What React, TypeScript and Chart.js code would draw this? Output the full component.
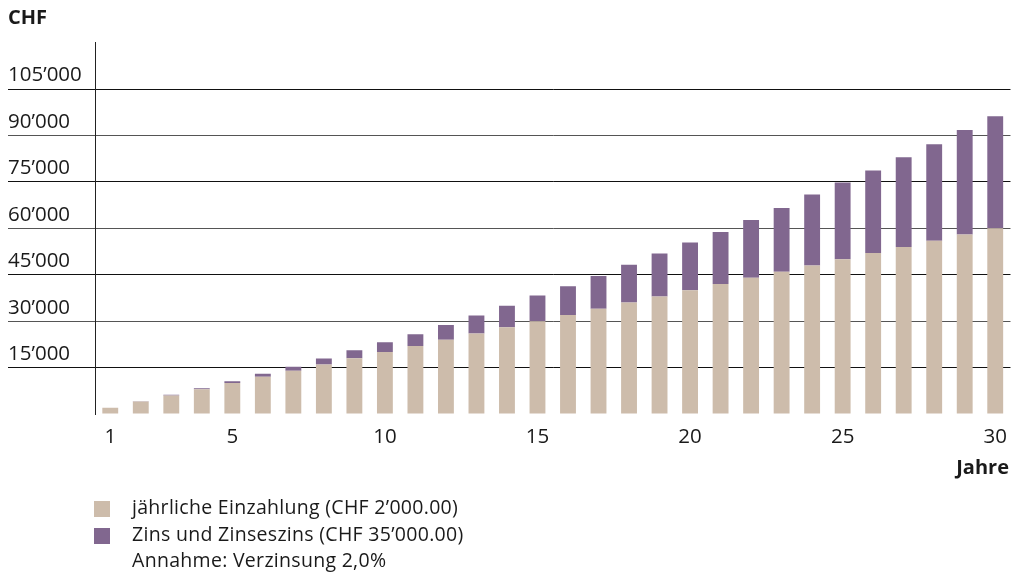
import React, { useEffect, useRef } from "react";
import { Chart, registerables } from "chart.js";

Chart.register(...registerables);

const years: string[] = [
  "1", "2", "3", "4", "5", "6", "7", "8", "9", "10",
  "11", "12", "13", "14", "15", "16", "17", "18", "19", "20",
  "21", "22", "23", "24", "25", "26", "27", "28", "29", "30",
];

const einzahlung: number[] = [
  2000, 4000, 6000, 8000, 10000, 12000, 14000, 16000, 18000, 20000,
  22000, 24000, 26000, 28000, 30000, 32000, 34000, 36000, 38000, 40000,
  42000, 44000, 46000, 48000, 50000, 52000, 54000, 56000, 58000, 60000,
];

const zins: number[] = [
  40, 120, 250, 350, 600, 1000, 1300, 1900, 2600, 3200,
  3800, 4800, 5800, 7000, 8300, 9300, 10600, 12200, 13900, 15400,
  16800, 18700, 20600, 22900, 24800, 26700, 29000, 31200, 33800, 36200,
];

const shownXTicks: string[] = ["1", "5", "10", "15", "20", "25", "30"];

const legendLabels: string[] = [
  "jährliche Einzahlung (CHF 2’000.00)",
  "Zins und Zinseszins (CHF 35’000.00)",
];
const noteText = "Annahme: Verzinsung 2,0%";

const BEIGE = "#cdbcab";
const PURPLE = "#81678f";
const FONT = "'Open Sans', sans-serif";
const TEXT = "#1a1a1a";

function fmt(v: number): string {
  return String(v).replace(/\B(?=(\d{3})+(?!\d))/g, "’");
}

export default function App() {
  const ref = useRef<HTMLCanvasElement | null>(null);

  useEffect(() => {
    if (!ref.current) return;
    const chart = new Chart(ref.current, {
      type: "bar",
      data: {
        labels: years,
        datasets: [
          {
            label: legendLabels[0],
            data: einzahlung,
            backgroundColor: BEIGE,
            barPercentage: 0.52,
            categoryPercentage: 1,
          },
          {
            label: legendLabels[1],
            data: zins,
            backgroundColor: PURPLE,
            barPercentage: 0.52,
            categoryPercentage: 1,
          },
        ],
      },
      options: {
        animation: false,
        responsive: false,
        maintainAspectRatio: false,
        layout: { padding: { left: 8, right: 3, top: 42.7, bottom: 119 } },
        plugins: {
          legend: { display: false },
          tooltip: { enabled: false },
          title: { display: false },
        },
        scales: {
          x: {
            stacked: true,
            grid: { display: false, drawTicks: false },
            border: { display: false },
            ticks: {
              autoSkip: false,
              maxRotation: 0,
              padding: 11,
              color: TEXT,
              font: { family: FONT, size: 20.5 },
              callback: (_v: any, i: number) =>
                shownXTicks.includes(years[i]) ? years[i] : "",
            },
            afterFit: (s: any) => {
              s.height = 40;
            },
          },
          y: {
            stacked: true,
            min: 0,
            max: 120000,
            ticks: {
              stepSize: 15000,
              crossAlign: "far",
              padding: 0,
              labelOffset: -13.5,
              color: TEXT,
              font: { family: FONT, size: 20.5 },
              callback: (v: any) =>
                v === 0 || v === 120000 ? "" : fmt(Number(v)),
            },
            grid: {
              drawTicks: true,
              tickLength: 87,
              lineWidth: 1,
              color: (c: any) => {
                const v = c.tick ? c.tick.value : 0;
                if (v === 0 || v === 120000) return "rgba(0,0,0,0)";
                return (v / 15000) % 2 === 1 ? "#111111" : "#555555";
              },
              tickColor: (c: any) => {
                const v = c.tick ? c.tick.value : 0;
                if (v === 0 || v === 120000) return "rgba(0,0,0,0)";
                return (v / 15000) % 2 === 1 ? "#111111" : "#555555";
              },
            },
            border: { display: true, color: "#222222", width: 1 },
            afterFit: (s: any) => {
              s.width = 87;
            },
          },
        },
      },
    });
    return () => chart.destroy();
  }, []);

  const textBase: React.CSSProperties = {
    position: "absolute",
    fontFamily: FONT,
    color: TEXT,
    lineHeight: 1,
    whiteSpace: "nowrap",
    margin: 0,
  };
  const legendSize = 19.5;
  const topFor = (baseline: number, size: number) => baseline - 0.888 * size;

  return (
    <div
      style={{
        position: "fixed",
        left: 0,
        top: 0,
        width: 1018,
        height: 573,
        background: "#ffffff",
        overflow: "hidden",
      }}
    >
      <canvas
        ref={ref}
        width={1018}
        height={573}
        style={{ position: "absolute", left: 0, top: 0, width: 1018, height: 573 }}
      />
      <div
        style={{
          ...textBase,
          left: 8,
          top: topFor(25, 20),
          fontSize: 20,
          fontWeight: 700,
        }}
      >
        CHF
      </div>
      <div
        style={{
          ...textBase,
          right: 9,
          top: topFor(475, 20),
          fontSize: 20,
          fontWeight: 700,
          textAlign: "right",
        }}
      >
        Jahre
      </div>
      <div
        style={{ position: "absolute", left: 94, top: 501, width: 16, height: 16, background: BEIGE }}
      />
      <div
        style={{ position: "absolute", left: 94, top: 528, width: 16, height: 16, background: PURPLE }}
      />
      <div style={{ ...textBase, left: 132, top: topFor(514, legendSize), fontSize: legendSize, letterSpacing: 0.3 }}>
        {legendLabels[0]}
      </div>
      <div style={{ ...textBase, left: 132, top: topFor(541, legendSize), fontSize: legendSize, letterSpacing: 0.3 }}>
        {legendLabels[1]}
      </div>
      <div style={{ ...textBase, left: 132, top: topFor(567.7, legendSize), fontSize: legendSize, letterSpacing: 0.3 }}>
        {noteText}
      </div>
    </div>
  );
}
